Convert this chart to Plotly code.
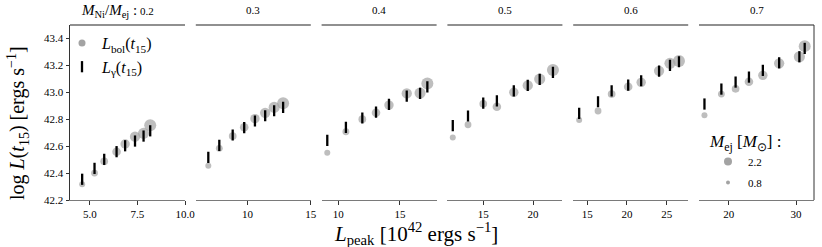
import plotly.graph_objects as go

# ---------------- data ----------------
ratio_labels = ["0.2", "0.3", "0.4", "0.5", "0.6", "0.7"]
m_ej = [0.8, 1.0, 1.2, 1.4, 1.6, 1.8, 2.0, 2.2]

lpeak_02 = [4.59, 5.24, 5.75, 6.40, 6.85, 7.37, 7.82, 8.17]
lbol_02 = [42.317, 42.400, 42.487, 42.559, 42.616, 42.670, 42.695, 42.755]
lgam_02 = [42.354, 42.435, 42.502, 42.559, 42.603, 42.638, 42.675, 42.714]

lpeak_03 = [6.89, 7.76, 8.82, 9.73, 10.58, 11.39, 12.10, 12.81]
lbol_03 = [42.455, 42.584, 42.675, 42.740, 42.804, 42.848, 42.888, 42.918]
lgam_03 = [42.517, 42.606, 42.683, 42.737, 42.787, 42.826, 42.863, 42.888]

lpeak_04 = [9.11, 10.62, 11.95, 13.06, 14.11, 15.55, 16.63, 17.22]
lbol_04 = [42.551, 42.707, 42.800, 42.848, 42.905, 42.992, 42.994, 43.066]
lgam_04 = [42.643, 42.740, 42.809, 42.853, 42.910, 42.972, 42.992, 43.041]

lpeak_05 = [11.94, 13.47, 15.00, 16.37, 18.07, 19.47, 20.67, 22.00]
lbol_05 = [42.665, 42.759, 42.915, 42.893, 43.000, 43.051, 43.098, 43.165]
lgam_05 = [42.752, 42.824, 42.920, 42.937, 43.011, 43.051, 43.096, 43.148]

lpeak_06 = [14.00, 16.37, 18.08, 20.16, 21.79, 24.04, 25.41, 26.54]
lbol_06 = [42.794, 42.861, 42.987, 43.041, 43.074, 43.160, 43.215, 43.232]
lgam_06 = [42.844, 42.930, 43.011, 43.054, 43.086, 43.158, 43.200, 43.227]

lpeak_07 = [16.41, 18.92, 21.03, 23.01, 25.07, 27.49, 30.49, 31.28]
lbol_07 = [42.829, 42.987, 43.026, 43.078, 43.126, 43.215, 43.264, 43.343]
lgam_07 = [42.913, 43.024, 43.076, 43.113, 43.163, 43.219, 43.264, 43.326]

y_ticks = [42.2, 42.4, 42.6, 42.8, 43.0, 43.2, 43.4]
x_ticks = [[5.0, 7.5, 10.0], [10, 15], [10, 15], [15, 20], [15, 20, 25], [20, 30]]
x_ticklabels = [["5.0", "7.5", "10.0"], ["10", "15"], ["10", "15"],
                ["15", "20"], ["15", "20", "25"], ["20", "30"]]
legend_mej = [2.2, 0.8]

panels = [
    (lpeak_02, lbol_02, lgam_02),
    (lpeak_03, lbol_03, lgam_03),
    (lpeak_04, lbol_04, lgam_04),
    (lpeak_05, lbol_05, lgam_05),
    (lpeak_06, lbol_06, lgam_06),
    (lpeak_07, lbol_07, lgam_07),
]
x_ranges = [[3.95, 10.0], [5.9, 15.0], [8.65, 17.97], [11.4, 22.95], [13.25, 27.7], [15.6, 32.66]]

# ---------------- style ----------------
FONT = "Liberation Serif"
GRAY = "#a3a3a3"
W, H = 822, 247
ML, MR, MT, MB = 70, 8, 25, 47
PW = W - ML - MR
PH = H - MT - MB
PANEL_W = 115.0
GAP = (PW - 6 * PANEL_W) / 5


def msize(m):
    return 6 + (m - 0.8) / 1.4 * 6


def px_x(px):
    return (px - ML) / PW


def px_y(py):
    return (MT + PH - py) / PH


fig = go.Figure()

for i, (lp, lb, lg) in enumerate(panels):
    xa = "x" if i == 0 else f"x{i+1}"
    fig.add_trace(go.Scatter(
        x=lp, y=lb, mode="markers", xaxis=xa, yaxis="y", showlegend=False,
        marker=dict(color=GRAY, size=[msize(m) for m in m_ej], line=dict(width=0)),
        hoverinfo="skip"))
    fig.add_trace(go.Scatter(
        x=lp, y=lg, mode="markers", xaxis=xa, yaxis="y", showlegend=False,
        marker=dict(symbol="line-ns", size=8, color="black",
                    line=dict(color="black", width=2.3)),
        hoverinfo="skip"))

# legend 1 entries
fig.add_trace(go.Scatter(
    x=[None], y=[None], mode="markers", name="<i>L</i><sub>bol</sub>(<i>t</i><sub>15</sub>)",
    legend="legend", legendgroup="a",
    marker=dict(color=GRAY, size=7, line=dict(width=0))))
fig.add_trace(go.Scatter(
    x=[None], y=[None], mode="markers", name="<i>L</i><sub>γ</sub>(<i>t</i><sub>15</sub>)",
    legend="legend", legendgroup="b",
    marker=dict(symbol="line-ns", size=8, color="black", line=dict(color="black", width=2.3))))
# legend 2 entries
for m, s in zip(legend_mej, [8, 4]):
    fig.add_trace(go.Scatter(
        x=[None], y=[None], mode="markers", name=f"{m}",
        legend="legend2", legendgroup=f"m{m}",
        marker=dict(color=GRAY, size=s, line=dict(width=0))))

layout = dict(
    width=W, height=H,
    margin=dict(l=ML, r=MR, t=MT, b=MB),
    paper_bgcolor="white", plot_bgcolor="white",
    font=dict(family=FONT, size=11, color="black"),
    yaxis=dict(range=[42.2, 43.5], tickvals=y_ticks,
               ticktext=[f"{v:.1f}" for v in y_ticks],
               showgrid=False, zeroline=False, showline=True, linecolor="#333",
               linewidth=1, ticks="outside", ticklen=3.5, tickcolor="#333",
               tickfont=dict(size=11, family=FONT), anchor="x", automargin=False),
    legend=dict(x=px_x(62), y=px_y(26), xanchor="left", yanchor="top",
                bgcolor="rgba(0,0,0,0)", font=dict(size=16, family=FONT),
                traceorder="grouped", tracegroupgap=0, itemwidth=30),
    legend2=dict(x=px_x(708), y=px_y(125), xanchor="left", yanchor="top",
                 bgcolor="rgba(0,0,0,0)", font=dict(size=11, family=FONT),
                 title=dict(text="<i>M</i><sub>ej</sub> [<i>M</i><sub>⊙</sub>] :",
                            font=dict(size=17, family=FONT)),
                 traceorder="grouped", tracegroupgap=2, itemwidth=30),
    showlegend=True,
)

shapes = []
annotations = []
for i in range(6):
    x0 = i * (PANEL_W + GAP) / PW
    x1 = x0 + PANEL_W / PW
    key = "xaxis" if i == 0 else f"xaxis{i+1}"
    ref = "x" if i == 0 else f"x{i+1}"
    layout[key] = dict(domain=[x0, min(x1, 1.0)], range=x_ranges[i], anchor="y",
                       tickvals=x_ticks[i], ticktext=x_ticklabels[i],
                       showgrid=False, zeroline=False, showline=True,
                       linecolor="#7a7a7a", linewidth=1.2, ticks="outside",
                       ticklen=3.5, tickcolor="#333", tickfont=dict(size=11, family=FONT),
                       automargin=False)
    shapes.append(dict(type="line", xref=f"{ref} domain", yref="paper",
                       x0=0, x1=1, y0=1, y1=1, line=dict(color="#222", width=1.2)))
    if i == 0:
        txt = ('<span style="font-size:15px"><i>M</i><sub>Ni</sub>/<i>M</i><sub>ej</sub> :</span> '
               + ratio_labels[i])
        annotations.append(dict(text=txt, xref=f"{ref} domain", yref="paper", x=0.41, y=1,
                                yanchor="bottom", yshift=3, showarrow=False,
                                font=dict(size=11, family=FONT)))
    else:
        annotations.append(dict(text=ratio_labels[i], xref=f"{ref} domain", yref="paper",
                                x=0.5, y=1, yanchor="bottom", yshift=7, showarrow=False,
                                font=dict(size=11, family=FONT)))

shapes.append(dict(type="line", xref="x6 domain", yref="paper", x0=1, x1=1, y0=0, y1=1,
                   line=dict(color="#333", width=1)))

annotations.append(dict(
    text="log <i>L</i>(<i>t</i><sub>15</sub>) [ergs s<sup>−1</sup>]",
    xref="paper", yref="paper", x=px_x(18), y=px_y(123),
    textangle=-90, showarrow=False, xanchor="center", yanchor="middle",
    font=dict(size=20, family=FONT)))
annotations.append(dict(
    text="<i>L</i><sub>peak</sub> [10<sup>42</sup> ergs s<sup>−1</sup>]",
    xref="paper", yref="paper", x=px_x(416), y=px_y(233),
    showarrow=False, xanchor="center", yanchor="middle",
    font=dict(size=21, family=FONT)))

layout["shapes"] = shapes
layout["annotations"] = annotations
fig.update_layout(**layout)

fig.write_html("out.html", config={"displayModeBar": False},
               post_script="document.body.style.margin='0';document.body.style.padding='0';")
